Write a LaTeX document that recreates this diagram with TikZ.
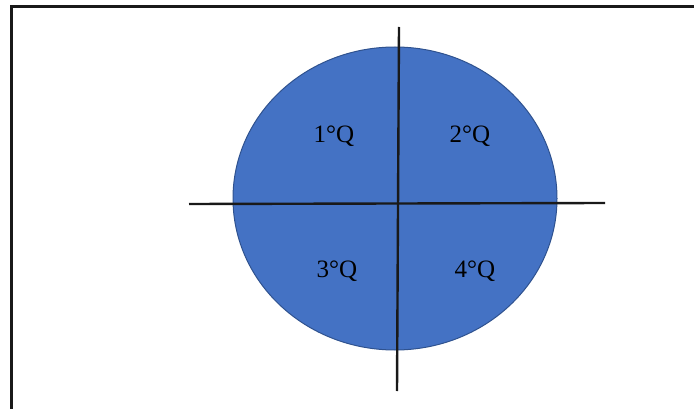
\documentclass[tikz,border=0pt]{standalone}
\usepackage{fontspec}
\setmainfont{Liberation Serif}
\usetikzlibrary{shapes.geometric}
\definecolor{quadblue}{HTML}{4472C4}
\definecolor{quadedge}{HTML}{2F528F}

\begin{document}
\begin{tikzpicture}[x=1pt, y=-1pt,
    axis/.style={line width=2.4pt, black!90},
    lbl/.style={anchor=base, inner sep=0pt, font=\fontsize{25}{28}\selectfont}]
    \useasboundingbox (0,0) rectangle (694,409);
    % frame (only top and left edges show)
    \draw[line width=3pt, black!90] (11,409) -- (11,7) -- (694,7);
    \node (disk) [ellipse, fill=quadblue, draw=quadedge, line width=1pt,
      minimum width=324pt, minimum height=303pt, inner sep=0pt] at (395,198.5) {};
    \coordinate (N) at (399,27); \coordinate (S) at (397,391);
    \coordinate (W) at (189,204); \coordinate (E) at (605,203);
    \draw[axis] (W) -- (E);
    \draw[axis] (N) -- (S);
    \node[lbl] (Q1) at (334,143) {1°Q};
    \node[lbl] (Q2) at (470,143) {2°Q};
    \node[lbl] (Q3) at (337,277) {3°Q};
    \node[lbl] (Q4) at (475,277) {4°Q};
  \end{tikzpicture}
\end{document}
